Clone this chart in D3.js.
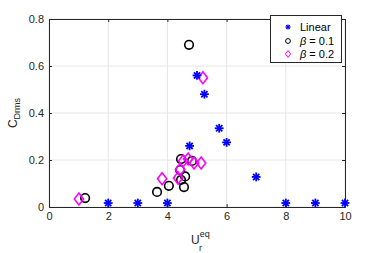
<!DOCTYPE html>
<html>
<head>
<meta charset="utf-8">
<script src="https://cdn.jsdelivr.net/npm/d3@7"></script>
<style>
  body { margin: 0; background: #fff; }
  svg { display: block; font-family: "Liberation Sans", Arial, sans-serif; }
</style>
</head>
<body>
<svg id="chart" width="382" height="253"></svg>
<script>
// Linear
const linX = [2, 3, 4, 4.75, 5, 5.25, 5.75, 6, 7, 8, 9, 10];
const linY = [0.017, 0.017, 0.017, 0.26, 0.56, 0.48, 0.335, 0.275, 0.128, 0.017, 0.017, 0.017];
// beta = 0.1
const b1X = [1.22, 3.65, 4.05, 4.46, 4.83, 4.43, 4.46, 4.56, 4.6, 4.73];
const b1Y = [0.038, 0.064, 0.09, 0.204, 0.196, 0.157, 0.115, 0.085, 0.13, 0.69];
// beta = 0.2
const b2X = [1.01, 3.82, 4.36, 4.43, 4.53, 4.7, 4.9, 5.14, 5.2];
const b2Y = [0.034, 0.12, 0.123, 0.16, 0.196, 0.204, 0.187, 0.187, 0.55];

const xTicks = [0, 2, 4, 6, 8, 10];
const yTicks = [0, 0.2, 0.4, 0.6, 0.8];

const m = {left: 49, right: 37, top: 19, bottom: 46};
const W = 382, H = 253;
const svg = d3.select("#chart");

const x = d3.scaleLinear().domain([0, 10]).range([m.left, W - m.right]);
const y = d3.scaleLinear().domain([0, 0.8]).range([H - m.bottom, m.top]);

const axCol = "#262626";

// grid
svg.append("g").selectAll("line").data(xTicks).join("line")
  .attr("x1", d => x(d)).attr("x2", d => x(d))
  .attr("y1", y(0)).attr("y2", y(0.8))
  .attr("stroke", "#e6e6e6").attr("stroke-width", 1);
svg.append("g").selectAll("line").data(yTicks).join("line")
  .attr("x1", x(0)).attr("x2", x(10))
  .attr("y1", d => y(d)).attr("y2", d => y(d))
  .attr("stroke", "#e6e6e6").attr("stroke-width", 1);

// axes
const fmtY = d => d === 0 ? "0" : d3.format(".1f")(d);
const styleAxis = g => {
  g.select(".domain").attr("stroke", axCol);
  g.selectAll(".tick line").attr("stroke", axCol);
  g.selectAll(".tick text").attr("fill", axCol).attr("font-size", 11);
};
svg.append("g").attr("transform", `translate(0,${y(0)})`)
  .call(d3.axisBottom(x).tickValues(xTicks).tickSize(-3).tickPadding(5).tickSizeOuter(0))
  .call(styleAxis);
svg.append("g").attr("transform", `translate(${x(0)},0)`)
  .call(d3.axisLeft(y).tickValues(yTicks).tickFormat(fmtY).tickSize(-3).tickPadding(5).tickSizeOuter(0))
  .call(styleAxis);
svg.append("g").attr("transform", `translate(0,${y(0.8)})`)
  .call(d3.axisTop(x).tickValues(xTicks).tickFormat("").tickSize(-3).tickSizeOuter(0))
  .call(styleAxis);
svg.append("g").attr("transform", `translate(${x(10)},0)`)
  .call(d3.axisRight(y).tickValues(yTicks).tickFormat("").tickSize(-3).tickSizeOuter(0))
  .call(styleAxis);
svg.selectAll("text").attr("font-family", "'Liberation Sans', Arial, sans-serif");

// markers
function star(g, cx, cy, r, col, sw) {
  // MATLAB '*' = plus + cross
  [0, 45, 90, 135].forEach(a => {
    const rad = a * Math.PI / 180;
    g.append("line")
      .attr("x1", cx - r * Math.sin(rad)).attr("y1", cy - r * Math.cos(rad))
      .attr("x2", cx + r * Math.sin(rad)).attr("y2", cy + r * Math.cos(rad))
      .attr("stroke", col).attr("stroke-width", sw);
  });
}
function diamond(g, cx, cy, rx, ry, col, sw) {
  g.append("path")
    .attr("d", `M${cx},${cy - ry}L${cx + rx},${cy}L${cx},${cy + ry}L${cx - rx},${cy}Z`)
    .attr("fill", "none").attr("stroke", col).attr("stroke-width", sw);
}

const pts = svg.append("g");
b1X.forEach((v, i) => {
  pts.append("circle").attr("cx", x(v)).attr("cy", y(b1Y[i])).attr("r", 4.3)
    .attr("fill", "none").attr("stroke", "#000").attr("stroke-width", 1.6);
});
b2X.forEach((v, i) => diamond(pts, x(v), y(b2Y[i]), 4.6, 6, "#ff00ff", 1.6));
linX.forEach((v, i) => star(pts, x(v), y(linY[i]), 4.4, "#0000ff", 1.8));

// axis labels
const yl = svg.append("text").attr("transform", `translate(17,${(y(0) + y(0.8)) / 2}) rotate(-90)`)
  .attr("text-anchor", "middle").attr("font-size", 12).attr("fill", axCol);
yl.append("tspan").text("C");
yl.append("tspan").attr("font-size", 9).attr("dy", 3).text("Drms");

const xl = svg.append("text").attr("x", x(5) - 6).attr("y", 244)
  .attr("font-size", 12).attr("fill", axCol);
xl.append("tspan").text("U");
xl.append("tspan").attr("font-size", 9).attr("dy", -7).text("eq");
svg.append("text").attr("x", x(5) + 2).attr("y", 251).attr("font-size", 9).attr("fill", axCol).text("r");

// legend
const leg = svg.append("g");
leg.append("rect").attr("x", 270.5).attr("y", 15.5).attr("width", 71).attr("height", 47)
  .attr("fill", "#fff").attr("stroke", axCol).attr("stroke-width", 1);
const names = ["Linear", "β = 0.1", "β = 0.2"];
const ly = [27, 41, 54];
star(leg, 288, ly[0], 2.6, "#0000ff", 1.2);
leg.append("circle").attr("cx", 288).attr("cy", ly[1]).attr("r", 2.4)
  .attr("fill", "none").attr("stroke", "#000").attr("stroke-width", 1);
diamond(leg, 288, ly[2], 2.6, 3.4, "#ff00ff", 1);
names.forEach((n, i) => {
  const t = leg.append("text").attr("x", 300).attr("y", ly[i] + 4).attr("font-size", 11).attr("fill", "#000");
  if (i === 0) t.text(n);
  else {
    t.append("tspan").attr("font-style", "italic").text("β");
    t.append("tspan").text(n.slice(1));
  }
});
</script>
</body>
</html>
